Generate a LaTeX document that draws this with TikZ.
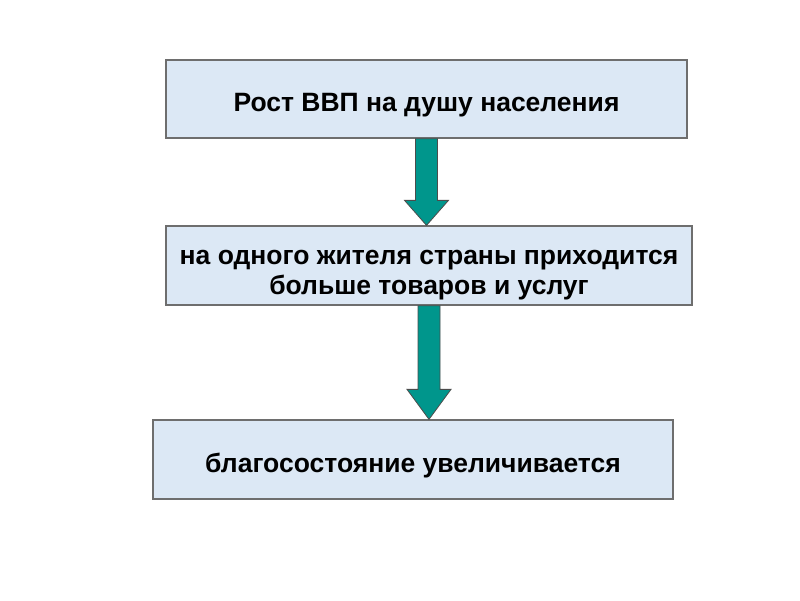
\documentclass[tikz,border=0pt]{standalone}
\usepackage{fontspec}
\setmainfont{Liberation Sans}
\usepackage{xcolor}
\usetikzlibrary{calc}
\definecolor{boxfill}{RGB}{220,232,245}
\definecolor{boxline}{RGB}{110,110,110}
\definecolor{teal}{RGB}{0,150,140}

\begin{document}
\begin{tikzpicture}[x=1pt, y=-1pt,
  stage/.style={draw=boxline, fill=boxfill, line width=1.3pt, align=center,
    font=\bfseries\fontsize{26.5}{30}\selectfont, inner sep=0pt},
  blockarrow/.style={draw=black!70, fill=teal, line width=0.8pt}]
  \useasboundingbox[fill=white] (0,0) rectangle (800,600);
  \node[stage, minimum width=521pt, minimum height=78pt] (gdp) at (426.5,99) {\rule{0pt}{31pt}Рост ВВП на душу населения};
  \node[stage, minimum width=526pt, minimum height=79pt] (goods) at (429,265.5) {\rule{0pt}{33pt}на одного жителя страны приходится\\больше товаров и услуг};
  \node[stage, minimum width=520pt, minimum height=79pt] (wealth) at (413,459.5) {\rule{0pt}{31pt}благосостояние увеличивается};
  \foreach \a/\b/\h in {gdp/goods/25, goods/wealth/30}
    \draw[blockarrow] let \p1=(\a.south), \p2=(\b.north) in
      (\x1-11,\y1) -- (\x1-11,\y2+\h) -- (\x1-22,\y2+\h) -- (\x1,\y2)
      -- (\x1+22,\y2+\h) -- (\x1+11,\y2+\h) -- (\x1+11,\y1) -- cycle;
\end{tikzpicture}
\end{document}
